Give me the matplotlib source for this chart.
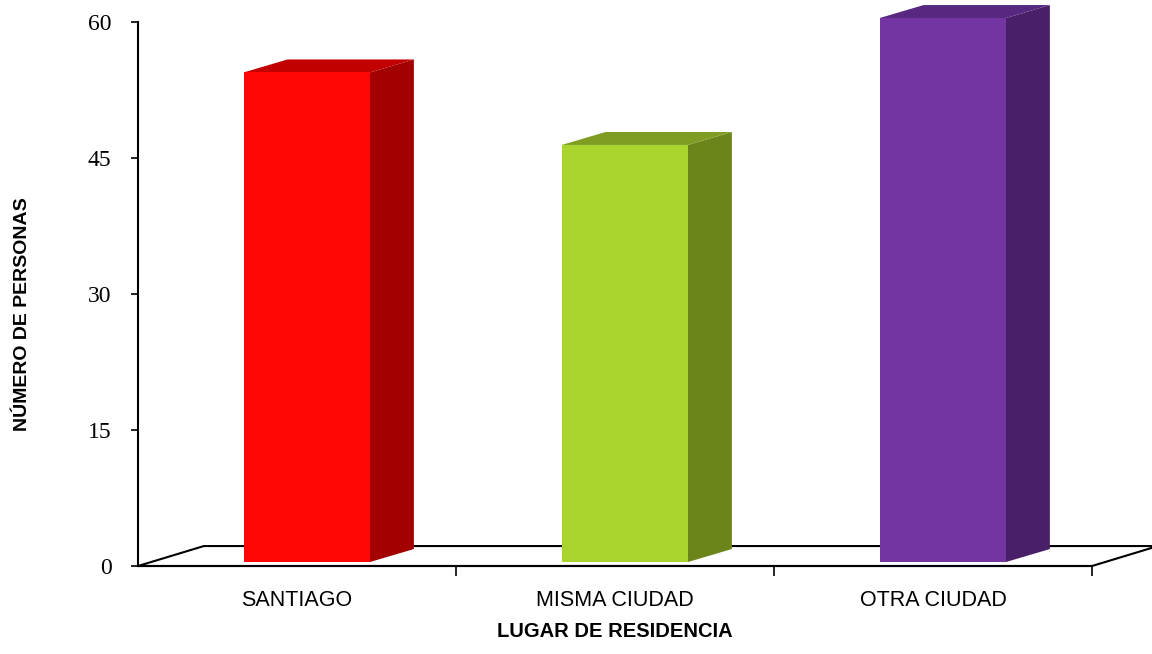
import matplotlib.pyplot as plt
from matplotlib.patches import Polygon

# data
categorias = ["SANTIAGO", "MISMA CIUDAD", "OTRA CIUDAD"]
personas = [54, 46, 60]
y_ticks = [0, 15, 30, 45, 60]

# colours: front / side / top
frente = ["#FE0606", "#A9D42E", "#7335A1"]
lado = ["#A30000", "#6B851B", "#4A1F69"]
tapa = ["#C20000", "#809D23", "#572880"]

# pseudo-3D geometry (data units)
ancho = 0.397
dx_bar, dy_bar = 0.138, 1.43
off_x, base = 0.031, 0.44
dx_piso, dy_piso = 0.207, 2.2

sans = ["Liberation Sans", "DejaVu Sans"]

fig = plt.figure(figsize=(11.52, 6.54), dpi=100)
ax = fig.add_axes([138 / 1152, 88 / 654, 954 / 1152, 544 / 654])
ax.set_xlim(-0.5, 2.5)
ax.set_ylim(0, 60)

# floor
piso = Polygon([(-0.5, 0), (2.5, 0), (2.5 + dx_piso, dy_piso), (-0.5 + dx_piso, dy_piso)],
               closed=True, facecolor="white", edgecolor="black", lw=1.5,
               clip_on=False, zorder=1)
ax.add_patch(piso)

xs = [i + off_x for i in range(len(categorias))]
ax.bar(xs, personas, width=ancho, bottom=base, color=frente, zorder=3, clip_on=False)

for x, v, cl, ct in zip(xs, personas, lado, tapa):
    x0, x1 = x - ancho / 2, x + ancho / 2
    top = base + v
    ax.add_patch(Polygon([(x1, base), (x1 + dx_bar, base + dy_bar), (x1 + dx_bar, top + dy_bar), (x1, top)],
                         closed=True, facecolor=cl, edgecolor="none", clip_on=False, zorder=2))
    ax.add_patch(Polygon([(x0, top), (x1, top), (x1 + dx_bar, top + dy_bar), (x0 + dx_bar, top + dy_bar)],
                         closed=True, facecolor=ct, edgecolor="none", clip_on=False, zorder=2))

for s in ["top", "right"]:
    ax.spines[s].set_visible(False)
ax.spines["left"].set_linewidth(1.5)
ax.spines["bottom"].set_linewidth(1.5)
ax.spines["left"].set_zorder(4)
ax.spines["bottom"].set_zorder(4)

ax.set_yticks(y_ticks)
ax.set_yticklabels([str(t) for t in y_ticks], fontfamily="Liberation Serif", fontsize=17)
ax.tick_params(axis="y", length=5, width=1.2, pad=14)

ax.set_xticks(range(len(categorias)))
ax.set_xticklabels(categorias, family=sans, fontsize=15.5)
ax.set_xticks([0.5, 1.5, 2.5], minor=True)
ax.tick_params(axis="x", which="major", length=0, pad=17)
ax.tick_params(axis="x", which="minor", length=7, width=1.2)

ax.set_xlabel("LUGAR DE RESIDENCIA", family=sans, fontsize=14.5, fontweight="bold")
ax.xaxis.set_label_coords(0.5, -0.103)
ax.set_ylabel("NÚMERO DE PERSONAS", family=sans, fontsize=14, fontweight="bold")
ax.yaxis.set_label_coords(-0.112, 0.463)

fig.savefig("out.png", dpi=100)
